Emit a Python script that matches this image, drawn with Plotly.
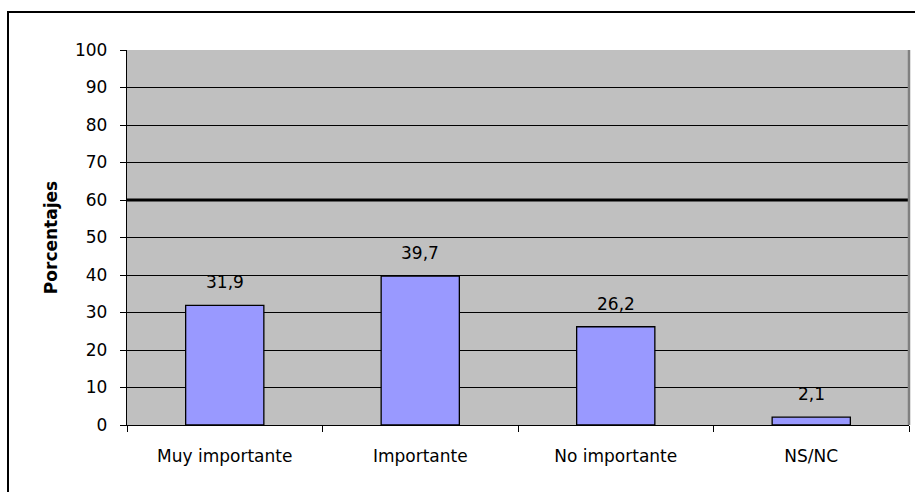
import plotly.graph_objects as go

categories = ["Muy importante", "Importante", "No importante", "NS/NC"]
values = [31.9, 39.7, 26.2, 2.1]
y_ticks = [0, 10, 20, 30, 40, 50, 60, 70, 80, 90, 100]
highlight_line = 60

FONT = "DejaVu Sans"

fig = go.Figure()
fig.add_trace(go.Bar(
    x=categories, y=values,
    marker=dict(color="#9999FF", line=dict(color="#000000", width=1.3)),
    width=0.4,
))

for c, v in zip(categories, values):
    fig.add_annotation(
        x=c, y=v, text=f"{v:.1f}".replace(".", ","),
        showarrow=False, yanchor="bottom", yshift=11,
        font=dict(family=FONT, size=17, color="#000000"),
    )

W, H = 915, 492
L, R, T, B = 127, 6, 50, 67
pw, ph = W - L - R, H - T - B

fig.update_layout(
    width=W, height=H,
    margin=dict(l=L, r=R, t=T, b=B),
    paper_bgcolor="#FFFFFF",
    plot_bgcolor="#C0C0C0",
    separators=",.",
    showlegend=False,
    font=dict(family=FONT, size=17, color="#000000"),
    xaxis=dict(
        showgrid=False, showline=True, linecolor="#000000", linewidth=1.3,
        ticks="outside", ticklen=6, tickcolor="#000000", tickwidth=1.3,
        tickson="boundaries", ticklabelstandoff=15,
        tickfont=dict(family=FONT, size=17), range=[-0.5, 3.5],
    ),
    yaxis=dict(
        range=[0, 100], tickvals=y_ticks,
        showgrid=True, gridcolor="#000000", gridwidth=1.3,
        showline=True, linecolor="#000000", linewidth=1.3,
        ticks="outside", ticklen=6, tickcolor="#000000", tickwidth=1.3,
        ticklabelstandoff=9,
        tickfont=dict(family=FONT, size=17),
        title=dict(text="<b>Porcentajes</b>", font=dict(family=FONT, size=17), standoff=13),
        zeroline=False,
    ),
    bargap=0.6,
)

# thicker reference line at 60
fig.add_shape(type="line", xref="paper", yref="y", x0=0, x1=1,
              y0=highlight_line, y1=highlight_line,
              line=dict(color="#000000", width=3), layer="above")
# gray right border of plot area
fig.add_shape(type="line", xref="paper", yref="paper", x0=1, x1=1, y0=0, y1=1,
              line=dict(color="#808080", width=2.5), layer="above")
# outer chart border
fig.add_shape(type="rect", xref="paper", yref="paper",
              x0=(8 - L) / pw, x1=1.05, y0=-0.5, y1=1 + (T - 12) / ph,
              line=dict(color="#000000", width=2), fillcolor="rgba(0,0,0,0)",
              layer="below")

fig.write_html("out.html")
